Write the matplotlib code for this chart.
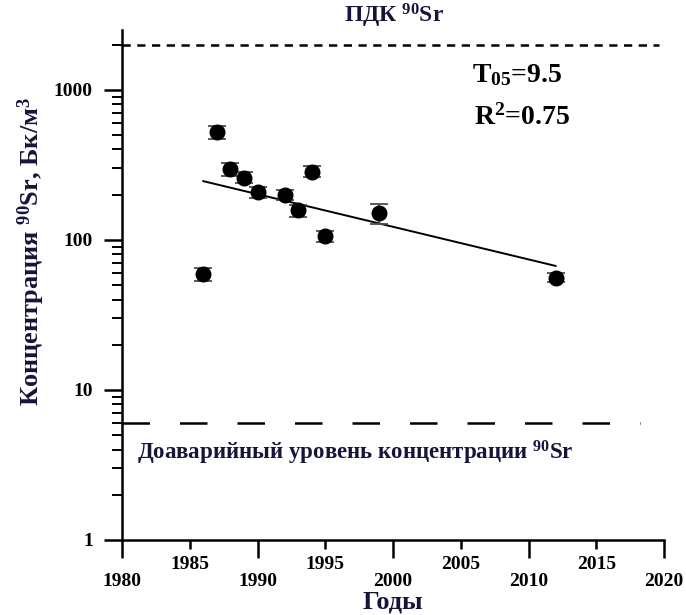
import numpy as np
import matplotlib
matplotlib.use('Agg')
import matplotlib.pyplot as plt

plt.rcParams['font.family'] = ['Liberation Serif', 'DejaVu Serif']
plt.rcParams['font.weight'] = 'bold'
plt.rcParams['axes.labelweight'] = 'bold'
plt.rcParams['mathtext.fontset'] = 'custom'
plt.rcParams['mathtext.rm'] = 'Liberation Serif:bold'
plt.rcParams['mathtext.bf'] = 'Liberation Serif:bold'
plt.rcParams['mathtext.it'] = 'Liberation Serif:bold'

# measured 90Sr concentration
years = [1986, 1987, 1988, 1989, 1990, 1992, 1993, 1994, 1995, 1999, 2012]
conc = [59, 520, 297, 260, 208, 200, 157, 285, 106, 150, 56]
err = [6, 50, 30, 22, 18, 15, 14, 24, 9, 22, 4]

# regression line (ends)
fit_years = [1986, 2012]
fit_conc = [246, 67]

pdk_level = 2000      # ПДК
pre_level = 6         # pre-accident level

major_years = [1980, 1990, 2000, 2010, 2020]
minor_years = [1985, 1995, 2005, 2015]
ytick_vals = [1, 10, 100, 1000]

txtcol = '#15153a'

fig = plt.figure(figsize=(6.86, 6.15), dpi=100)
ax = fig.add_axes([122/686, 75/615, 542/686, 510/615])

ax.set_yscale('log')
ax.set_xlim(1980, 2020)
ax.set_ylim(1, 2500)

ax.plot(fit_years, fit_conc, color='k', lw=1.4, zorder=2)
ax.errorbar(years, conc, yerr=err, fmt='o', color='k', ms=10.5,
            ecolor='0.3', elinewidth=1.3, capsize=6.5, capthick=1.3, zorder=3)

ax.axhline(pdk_level, color='k', lw=1.8, linestyle=(0, (3.3, 2.6)), xmax=0.99)
ax.axhline(pre_level, color='k', lw=1.8, linestyle=(0, (11, 12)), xmax=0.955)

ax.spines['top'].set_visible(False)
ax.spines['right'].set_visible(False)
ax.spines['left'].set_linewidth(1.8)
ax.spines['bottom'].set_linewidth(1.8)

ax.set_xticks(major_years)
ax.set_xticklabels([str(y) for y in major_years])
ax.set_xticks(minor_years, minor=True)
ax.set_xticklabels([str(y) for y in minor_years], minor=True)
ax.tick_params(axis='x', which='major', length=13, width=1.8, pad=11, labelsize=14)
ax.tick_params(axis='x', which='minor', length=6.5, width=1.8, pad=5, labelsize=14)

ax.set_yticks(ytick_vals)
ax.set_yticklabels([str(v) for v in ytick_vals])
ax.tick_params(axis='y', which='major', length=13, width=1.8, pad=8, labelsize=14)
ax.tick_params(axis='y', which='minor', length=7, width=1.4)

ax.set_xlabel('Годы', fontsize=19, color=txtcol, labelpad=0)
ax.set_ylabel('Концентрация $^{90}$Sr, Бк/м$^{3}$', fontsize=19, color=txtcol)
ax.yaxis.set_label_coords(-0.138, 0.565)

ax.text(0.502, 1.015, 'ПДК $^{90}$Sr', transform=ax.transAxes, ha='center', va='baseline',
        fontsize=17, color=txtcol)
ax.text(0.645, 0.898, 'T$_{05}$=9.5', transform=ax.transAxes, ha='left', va='baseline',
        fontsize=20, color='k')
ax.text(0.65, 0.815, 'R$^{2}$=0.75', transform=ax.transAxes, ha='left', va='baseline',
        fontsize=20, color='k')
ax.text(0.028, 0.157, 'Доаварийный уровень концентрации $^{90}$Sr', transform=ax.transAxes,
        ha='left', va='baseline', fontsize=16.5, color=txtcol)

fig.savefig('out.png', dpi=100)
